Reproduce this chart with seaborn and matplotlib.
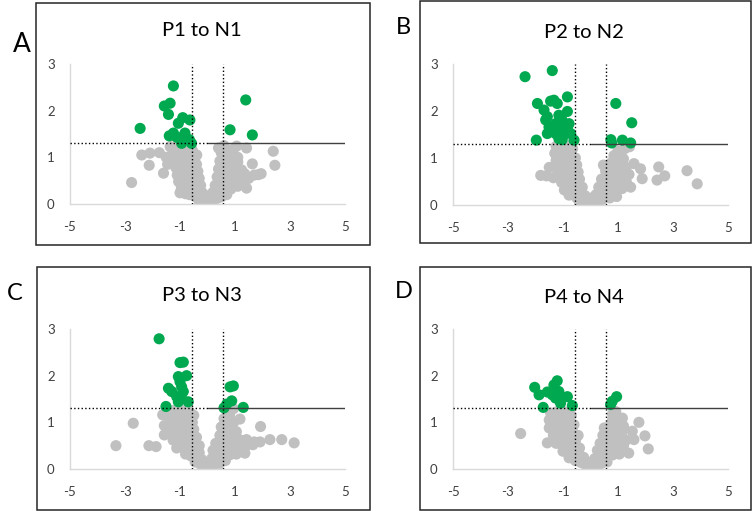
import numpy as np
import pandas as pd
import matplotlib
matplotlib.use("Agg")
import matplotlib.pyplot as plt
import seaborn as sns
from matplotlib.patches import Rectangle

# panel titles and letters
titles = ["P1 to N1", "P2 to N2", "P3 to N3", "P4 to N4"]
letters = ["A", "B", "C", "D"]

x_ticks = [-5, -3, -1, 1, 3, 5]
y_ticks = [0, 1, 2, 3]
fc_cut = 0.58
p_cut = 1.3

# ---- panel A ----
a_gray = [(-1.30, 1.20), (-1.10, 1.22), (-0.90, 1.25), (-0.70, 1.22), (-0.55, 1.15),
          (-1.25, 1.05), (-1.05, 1.08), (-0.85, 1.10), (-0.65, 1.05), (-0.45, 1.00),
          (-1.20, 0.92), (-1.00, 0.95), (-0.80, 0.95), (-0.60, 0.90), (-0.40, 0.85),
          (-1.15, 0.78), (-0.95, 0.80), (-0.75, 0.78), (-0.55, 0.75), (-0.35, 0.70),
          (-1.10, 0.62), (-0.90, 0.65), (-0.70, 0.62), (-0.50, 0.58), (-0.30, 0.55),
          (-1.05, 0.48), (-0.85, 0.50), (-0.65, 0.46), (-0.45, 0.42), (-0.25, 0.40),
          (-0.95, 0.34), (-0.75, 0.35), (-0.55, 0.30), (-0.35, 0.28), (-0.20, 0.25),
          (-1.00, 0.24), (-0.65, 0.20), (-0.45, 0.16), (-0.25, 0.12), (-0.10, 0.08),
          (-0.30, 0.05), (0.00, 0.02), (-0.15, 0.15), (-0.80, 0.22), (0.05, 0.18),
          (0.10, 0.05), (0.20, 0.10), (0.35, 0.12), (0.50, 0.15), (0.70, 0.20),
          (0.20, 0.25), (0.40, 0.28), (0.60, 0.30), (0.85, 0.32), (1.10, 0.38),
          (0.28, 0.40), (0.50, 0.45), (0.75, 0.48), (1.00, 0.50), (1.25, 0.52), (1.50, 0.55),
          (0.35, 0.58), (0.55, 0.62), (0.80, 0.65), (1.05, 0.68), (1.35, 0.65), (1.70, 0.62),
          (1.95, 0.65), (0.40, 0.75), (0.60, 0.80), (0.85, 0.82), (1.10, 0.90), (1.24, 0.73),
          (0.45, 0.92), (0.65, 0.98), (0.90, 1.00), (1.10, 1.00),
          (0.50, 1.10), (0.70, 1.15), (0.95, 1.18), (0.60, 1.25), (0.40, 1.20), (1.06, 1.24),
          (-2.76, 0.46), (2.39, 1.13), (2.45, 0.83), (1.63, 0.86), (1.42, 1.20), (1.85, 0.63),
          (1.42, 0.34), (-2.39, 1.05), (-2.12, 0.83), (-2.09, 1.09), (-1.75, 1.10), (-1.60, 0.66),
          (-1.36, 1.23), (-0.39, 1.05), (-1.50, 1.00), (-1.45, 0.85)]
a_green = [(-1.24, 2.53), (1.39, 2.23), (-1.36, 2.16), (-1.57, 2.10), (-1.42, 1.92),
           (-2.45, 1.62), (-0.90, 1.85), (-0.64, 1.80), (-1.06, 1.73), (0.82, 1.59),
           (1.63, 1.48), (-1.39, 1.46), (-1.24, 1.52), (-0.82, 1.52), (-1.00, 1.41),
           (-0.66, 1.38), (-0.94, 1.30), (-0.58, 1.30), (-1.12, 1.43)]

# ---- panel B ----
b_gray = [(-1.25, 1.25), (-1.05, 1.28), (-0.85, 1.25), (-0.65, 1.20),
          (-1.30, 1.10), (-1.10, 1.12), (-0.90, 1.10), (-0.70, 1.08), (-0.55, 1.00),
          (-1.25, 0.95), (-1.05, 0.95), (-0.85, 0.92), (-0.65, 0.90), (-0.50, 0.85),
          (-1.50, 0.80), (-1.30, 0.80), (-1.10, 0.80), (-0.90, 0.78), (-0.70, 0.75), (-0.45, 0.70),
          (-1.81, 0.63), (-1.35, 0.58), (-1.15, 0.65), (-0.95, 0.62), (-0.75, 0.60), (-0.55, 0.58),
          (-0.40, 0.55), (-1.05, 0.48), (-0.85, 0.45), (-0.65, 0.44), (-0.45, 0.40), (-0.30, 0.38),
          (-0.95, 0.32), (-0.75, 0.30), (-0.55, 0.28), (-0.35, 0.25), (-0.20, 0.20),
          (-0.78, 0.21), (-0.50, 0.15), (-0.30, 0.10), (-0.15, 0.06), (0.00, 0.02), (-0.40, 0.05),
          (0.10, 0.05), (0.25, 0.08), (0.45, 0.12), (0.70, 0.15), (0.95, 0.18), (0.05, 0.15),
          (0.20, 0.22), (0.40, 0.25), (0.65, 0.28), (0.90, 0.30), (1.15, 0.35),
          (0.30, 0.38), (0.55, 0.42), (0.80, 0.45), (1.05, 0.48), (1.30, 0.50), (1.46, 0.38),
          (0.40, 0.55), (0.65, 0.58), (0.90, 0.60), (1.15, 0.62), (1.40, 0.65), (1.88, 0.56),
          (0.47, 0.85), (0.55, 0.72), (0.80, 0.75), (1.05, 0.78), (1.30, 0.80), (1.58, 0.88),
          (1.82, 0.77), (0.75, 0.90), (0.95, 0.95), (1.20, 0.98),
          (0.85, 1.05), (1.10, 1.10), (1.00, 1.15), (1.42, 1.24), (1.25, 1.20),
          (2.48, 0.81), (2.42, 0.53), (2.70, 0.62), (3.51, 0.73), (3.88, 0.45), (-1.60, 0.62)]
b_green = [(-2.38, 2.73), (-1.39, 2.86), (-0.84, 2.30), (-1.93, 2.16), (-1.45, 2.21),
           (-1.33, 2.23), (-1.21, 2.16), (0.92, 2.16), (1.50, 1.75), (-1.69, 2.02),
           (-0.84, 1.99), (-1.57, 1.88), (-1.15, 1.91), (-1.63, 1.81), (-1.27, 1.73),
           (-1.03, 1.80), (-0.78, 1.73), (-1.51, 1.66), (-1.15, 1.62), (-0.84, 1.62),
           (-1.57, 1.52), (-1.27, 1.52), (-0.97, 1.49), (-0.72, 1.52), (-1.97, 1.38),
           (-1.03, 1.39), (-0.60, 1.38), (0.74, 1.39), (0.77, 1.32), (1.16, 1.38),
           (1.46, 1.32), (-1.15, 1.41), (-1.39, 1.59)]

# ---- panel C ----
c_gray = [(-1.45, 1.22), (-1.25, 1.25), (-1.05, 1.26), (-0.85, 1.25), (-0.65, 1.22), (-0.50, 1.15),
          (-1.63, 1.16), (-1.35, 1.08), (-1.15, 1.10), (-0.95, 1.08), (-0.75, 1.05), (-0.55, 1.00),
          (-1.57, 0.93), (-1.30, 0.92), (-1.10, 0.95), (-0.90, 0.92), (-0.70, 0.88), (-0.50, 0.85),
          (-1.57, 0.73), (-1.40, 0.78), (-1.20, 0.78), (-1.00, 0.78), (-0.80, 0.75), (-0.60, 0.72),
          (-0.40, 0.68), (-1.25, 0.62), (-1.05, 0.62), (-0.85, 0.60), (-0.65, 0.58), (-0.45, 0.55),
          (-0.30, 0.50), (-1.12, 0.45), (-0.90, 0.46), (-0.70, 0.44), (-0.50, 0.40), (-0.30, 0.35),
          (-0.80, 0.32), (-0.60, 0.28), (-0.40, 0.25), (-0.20, 0.20),
          (-0.45, 0.15), (-0.25, 0.10), (-0.10, 0.05), (0.00, 0.02),
          (0.10, 0.05), (0.25, 0.10), (0.45, 0.12), (0.65, 0.18),
          (0.15, 0.22), (0.35, 0.25), (0.55, 0.28), (0.80, 0.30), (1.05, 0.32), (1.36, 0.34),
          (0.20, 0.40), (0.40, 0.42), (0.65, 0.45), (0.90, 0.45), (1.15, 0.48), (1.40, 0.50),
          (1.65, 0.52), (0.30, 0.55), (0.50, 0.58), (0.75, 0.60), (1.00, 0.60), (1.20, 0.62),
          (1.42, 0.63), (1.70, 0.58), (0.45, 0.72), (0.65, 0.75), (0.85, 0.78), (1.05, 0.80),
          (0.50, 0.90), (0.70, 0.95), (0.95, 1.00), (1.18, 1.07),
          (0.60, 1.08), (0.80, 1.15), (0.94, 1.29), (0.75, 1.25),
          (-3.33, 0.50), (-2.70, 0.98), (-2.13, 0.50), (-1.87, 0.48), (1.93, 0.91),
          (2.27, 0.63), (2.70, 0.63), (3.15, 0.56), (1.91, 0.58)]
c_green = [(-1.76, 2.79), (-1.00, 2.28), (-0.88, 2.29), (-0.76, 2.00), (-1.06, 1.98),
           (-1.00, 1.87), (-0.94, 1.76), (-1.42, 1.73), (-1.30, 1.66), (-0.88, 1.66),
           (-1.12, 1.55), (-0.94, 1.51), (-0.70, 1.44), (-1.06, 1.44), (-1.51, 1.34),
           (0.82, 1.76), (0.94, 1.78), (0.88, 1.46), (0.70, 1.39), (0.60, 1.31), (1.30, 1.32)]

# ---- panel D ----
d_gray = [(-1.45, 1.20), (-1.25, 1.22), (-1.05, 1.25), (-0.85, 1.22), (-0.70, 1.15),
          (-1.50, 1.05), (-1.30, 1.02), (-1.00, 1.05), (-0.80, 1.02), (-0.60, 0.95),
          (-1.50, 0.88), (-1.30, 0.85), (-1.05, 0.88), (-0.85, 0.85), (-0.65, 0.80), (-0.45, 0.72),
          (-1.35, 0.72), (-1.15, 0.70), (-0.95, 0.70), (-0.75, 0.65), (-0.55, 0.60),
          (-1.57, 0.56), (-1.25, 0.55), (-1.05, 0.52), (-0.85, 0.50), (-0.65, 0.46), (-0.40, 0.45),
          (-1.00, 0.38), (-0.80, 0.36), (-0.60, 0.32), (-0.40, 0.30), (-0.25, 0.25),
          (-0.78, 0.24), (-0.55, 0.18), (-0.35, 0.14), (-0.20, 0.10), (-0.10, 0.05), (0.00, 0.02),
          (0.10, 0.05), (0.25, 0.08), (0.40, 0.12), (0.60, 0.15), (0.05, 0.15),
          (0.15, 0.22), (0.35, 0.25), (0.55, 0.28), (0.80, 0.30), (1.05, 0.32), (1.39, 0.34),
          (0.25, 0.40), (0.45, 0.42), (0.70, 0.45), (0.95, 0.48), (1.20, 0.50),
          (0.35, 0.55), (0.55, 0.60), (0.80, 0.62), (1.05, 0.60), (1.30, 0.62), (1.58, 0.63),
          (0.45, 0.72), (0.65, 0.75), (0.90, 0.78), (1.15, 0.80), (1.52, 0.81),
          (0.50, 0.88), (0.70, 0.92), (0.95, 0.95), (1.20, 0.92),
          (0.80, 1.05), (1.00, 1.10), (1.16, 1.09), (0.92, 1.23), (0.80, 1.18),
          (-2.54, 0.76), (1.76, 1.00), (1.98, 0.71), (2.10, 0.43)]
d_green = [(-2.03, 1.75), (-1.87, 1.59), (-1.21, 1.89), (-1.33, 1.80), (-1.57, 1.65),
           (-1.39, 1.59), (-1.15, 1.66), (-1.27, 1.52), (-1.03, 1.52), (-0.84, 1.55),
           (-1.72, 1.32), (-1.09, 1.41), (-0.66, 1.36), (0.95, 1.55), (0.79, 1.45), (0.73, 1.38)]

grays = [a_gray, b_gray, c_gray, d_gray]
greens = [a_green, b_green, c_green, d_green]

sns.set_style("white")
plt.rcParams['font.family'] = ['Lato', 'DejaVu Sans']

GRAY = "#c0c0c0"
GREEN = "#00a84f"

fig = plt.figure(figsize=(7.52, 5.11), dpi=100)

# pixel layout of each panel: axes box and outer frame (left, top, right, bottom)
ax_px = [(70, 64, 345, 204), (453, 64, 728, 205), (70, 329, 345, 469), (453, 329, 728, 469)]
box_px = [(36, 3, 370, 245), (420, 1, 751, 243), (37, 267, 370, 510), (420, 267, 751, 510)]
title_px = [(202, 30), (584, 32), (202, 295), (584, 297)]
letter_px = [(22, 44), (403, 27), (15, 294), (404, 292)]
letter_fs = [19, 17, 17, 17]

W, H = 752.0, 511.0

for i in range(4):
    l, t, r, b = box_px[i]
    fig.patches.append(Rectangle((l / W, 1 - b / H), (r - l) / W, (b - t) / H,
                                 transform=fig.transFigure, fill=False,
                                 edgecolor="#262626", linewidth=1.1))
    l, t, r, b = ax_px[i]
    ax = fig.add_axes([l / W, 1 - b / H, (r - l) / W, (b - t) / H])

    g = pd.DataFrame(grays[i], columns=["log2fc", "logp"])
    s = pd.DataFrame(greens[i], columns=["log2fc", "logp"])
    sns.scatterplot(data=g, x="log2fc", y="logp", color=GRAY, s=64,
                    edgecolor="none", ax=ax, zorder=2)
    sns.scatterplot(data=s, x="log2fc", y="logp", color=GREEN, s=64,
                    edgecolor="none", ax=ax, zorder=3)

    # threshold lines
    ax.plot([-fc_cut, -fc_cut], [0, 3], ls=":", color="black", lw=1, zorder=4)
    ax.plot([fc_cut, fc_cut], [0, 3], ls=":", color="black", lw=1, zorder=4)
    ax.plot([-5, 0], [p_cut, p_cut], ls=":", color="black", lw=1, zorder=4)
    ax.plot([0, 5], [p_cut, p_cut], ls="-", color="#404040", lw=1, zorder=4)

    ax.set_xlim(-5, 5)
    ax.set_ylim(0, 3)
    ax.set_xticks(x_ticks)
    ax.set_xticklabels([str(v) for v in x_ticks])
    ax.set_yticks(y_ticks)
    ax.set_yticklabels([str(v) for v in y_ticks])
    ax.tick_params(length=0, labelsize=9.5, labelcolor="#404040")
    ax.tick_params(axis="x", pad=12)
    ax.tick_params(axis="y", pad=11)
    ax.set_xlabel("")
    ax.set_ylabel("")
    for side in ["top", "right"]:
        ax.spines[side].set_visible(False)
    for side in ["left", "bottom"]:
        ax.spines[side].set_color("#d9d9d9")
        ax.spines[side].set_linewidth(1)
    ax.patch.set_alpha(0)

    tx, ty = title_px[i]
    fig.text(tx / W, 1 - ty / H, titles[i], ha="center", va="center",
             fontsize=14.5, color="black")
    lx, ly = letter_px[i]
    fig.text(lx / W, 1 - ly / H, letters[i], ha="center", va="center",
             fontsize=letter_fs[i], color="black")

fig.savefig("out.png", dpi=100)
